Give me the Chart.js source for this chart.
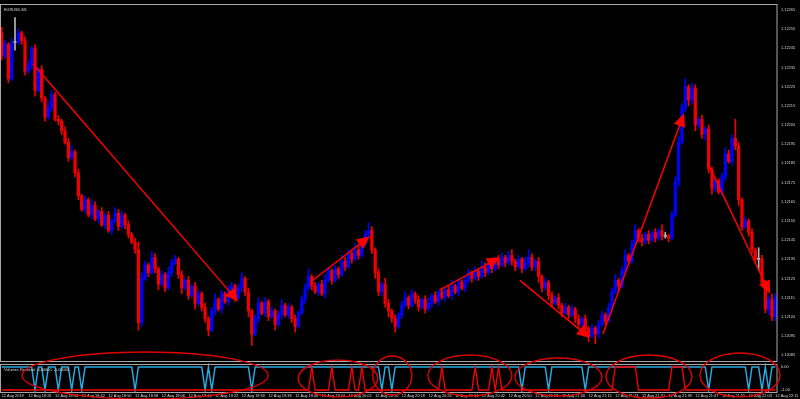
<!DOCTYPE html>
<html lang="en">
<head>
<meta charset="utf-8">
<title>EURUSD,M1</title>
<script src="https://cdn.jsdelivr.net/npm/chart.js@4.4.1/dist/chart.umd.min.js"></script>
<style>
    html, body { margin: 0; padding: 0; background: #000; }
    canvas { display: block; }
</style>
</head>
<body>
<canvas id="chart" width="800" height="399"></canvas>
<script>
// prices are kept in points (0.00001) above 1.12000
var base = 1.12;
var firstOpen = 253;
var closes = [
    241, 247, 229, 248, 248, 253, 249, 233, 236, 245,
    223, 234, 219, 209, 214, 221, 208, 207, 202, 196,
    188, 191, 180, 168, 161, 166, 158, 163, 156, 160,
    153, 158, 150, 155, 159, 152, 158, 153, 148, 144,
    140, 102, 125, 132, 128, 136, 130, 122, 127, 120,
    128, 133, 135, 127, 120, 124, 116, 121, 112, 117,
    110, 104, 98, 108, 114, 109, 117, 113, 118, 121,
    115, 120, 125, 118, 108, 96, 104, 112, 107, 113,
    105, 108, 101, 106, 111, 106, 110, 104, 100, 107,
    114, 120, 126, 121, 118, 122, 117, 124, 129, 124,
    130, 127, 134, 131, 138, 135, 140, 137, 143, 148,
    150, 140, 128, 118, 122, 112, 108, 104, 100, 106,
    111, 115, 111, 117, 114, 110, 114, 109, 112, 116,
    113, 118, 115, 119, 116, 121, 118, 123, 120, 124,
    128, 125, 129, 126, 131, 128, 133, 130, 135, 132,
    136, 133, 137, 134, 131, 135, 130, 133, 136, 131,
    134, 126, 120, 123, 116, 112, 115, 111, 107, 110,
    106, 109, 104, 101, 104, 99, 95, 99, 96, 101,
    106, 103, 110, 118, 124, 121, 129, 137, 134, 143,
    150, 146, 144, 148, 145, 149, 146, 150, 147, 147,
    146, 158, 175, 196, 214, 225, 218, 224, 205, 208,
    200, 203, 182, 172, 176, 170, 178, 190, 186, 198,
    194, 166, 152, 155, 149, 140, 135, 135, 123, 109,
    114, 105, 115
];
var wickUp = [
    3, 2, 1, 2, 13, 2, 1, 2, 3, 1, 2, 1, 2, 1, 3, 2, 1, 2, 1, 2,
    2, 3, 1, 2, 1, 2, 1, 3, 2, 1, 2, 1, 2, 1, 3, 2, 2, 1, 2, 1,
    2, 4, 3, 2, 1, 3, 2, 1, 2, 1, 3, 2, 2, 1, 2, 1, 2, 1, 2, 2,
    1, 2, 1, 2, 3, 1, 2, 1, 3, 2, 1, 2, 3, 1, 2, 1, 2, 3, 1, 2,
    1, 2, 1, 2, 3, 1, 2, 1, 2, 1, 2, 2, 4, 1, 2, 1, 2, 3, 2, 1,
    2, 1, 3, 2, 2, 1, 3, 2, 1, 2, 4, 2, 1, 2, 1, 3, 2, 1, 2, 1,
    2, 3, 1, 2, 1, 2, 1, 2, 3, 1, 2, 1, 2, 1, 2, 3, 1, 2, 1, 2,
    2, 1, 2, 1, 3, 2, 1, 2, 1, 2, 2, 1, 2, 3, 1, 2, 1, 3, 4, 2,
    1, 2, 1, 2, 1, 2, 1, 2, 1, 2, 1, 2, 1, 2, 1, 2, 1, 2, 1, 2,
    2, 1, 2, 2, 3, 1, 2, 3, 1, 2, 3, 1, 2, 1, 2, 1, 2, 1, 3, 2,
    1, 2, 3, 3, 2, 4, 1, 3, 2, 1, 2, 1, 2, 1, 2, 1, 2, 3, 2, 2,
    10, 2, 1, 2, 1, 2, 1, 6, 2, 1, 2, 3, 2
];
var wickDown = [
    2, 1, 2, 1, 4, 1, 2, 2, 1, 2, 3, 1, 2, 2, 1, 2, 1, 2, 2, 1,
    2, 1, 2, 2, 1, 2, 1, 2, 1, 2, 1, 2, 1, 2, 1, 2, 1, 2, 2, 1,
    2, 4, 2, 1, 2, 1, 2, 3, 1, 2, 1, 2, 1, 2, 3, 1, 2, 1, 3, 1,
    2, 2, 3, 1, 2, 1, 2, 1, 2, 1, 2, 1, 2, 2, 3, 6, 1, 2, 1, 2,
    2, 1, 3, 1, 2, 1, 2, 2, 3, 1, 1, 2, 1, 2, 1, 2, 1, 2, 1, 2,
    1, 2, 1, 2, 1, 2, 1, 2, 1, 1, 2, 2, 3, 2, 2, 2, 3, 2, 3, 1,
    2, 1, 2, 1, 2, 2, 1, 2, 1, 2, 1, 2, 1, 2, 1, 2, 1, 2, 1, 2,
    1, 2, 1, 2, 1, 2, 1, 2, 1, 2, 1, 2, 1, 2, 2, 1, 2, 1, 2, 2,
    2, 3, 2, 1, 2, 2, 1, 2, 2, 1, 2, 1, 2, 2, 1, 2, 3, 1, 5, 2,
    1, 2, 1, 2, 1, 2, 1, 2, 2, 1, 1, 2, 2, 1, 2, 1, 2, 1, 2, 1,
    2, 1, 1, 2, 1, 2, 3, 2, 3, 2, 2, 3, 2, 3, 2, 1, 2, 2, 1, 2,
    2, 3, 2, 1, 2, 2, 2, 6, 2, 2, 3, 2, 2
];
var priceTicks = [
    1.12085, 1.12095, 1.12105, 1.12115, 1.12125, 1.12135, 1.12145,
    1.12155, 1.12165, 1.12175, 1.12185, 1.12195, 1.12205, 1.12215,
    1.12225, 1.12235, 1.12245, 1.12255, 1.12265
];
var tickLabels = [
    "12 Aug 2019", "12 Aug 18:26", "12 Aug 18:34", "12 Aug 18:42", "12 Aug 18:50",
    "12 Aug 18:58", "12 Aug 19:06", "12 Aug 19:14", "12 Aug 19:22", "12 Aug 19:30",
    "12 Aug 19:38", "12 Aug 19:46", "12 Aug 19:54", "12 Aug 20:02", "12 Aug 20:10",
    "12 Aug 20:18", "12 Aug 20:26", "12 Aug 20:34", "12 Aug 20:42", "12 Aug 20:50",
    "12 Aug 20:58", "12 Aug 21:06", "12 Aug 21:15", "12 Aug 21:23", "12 Aug 21:31",
    "12 Aug 21:39", "12 Aug 21:47", "12 Aug 21:55", "12 Aug 22:03", "12 Aug 22:11"
];
// Volumes Reversal indicator: blue sits at 0 and dips to -1, red sits at -1 and jumps to 0
var blueDips = [10, 13, 17, 21, 24, 40, 61, 63, 75, 114, 117, 156, 164, 175, 212, 224, 228, 230];
var redOn = [93, 99, 105, 108, 132, 142, 147, 149, 184, 185, 186, 187, 188, 189, 190, 201, 202, 203, 204];
var indTicks = [0, -1];

// hand drawn marks: arrows [barFrom, ptsFrom, barTo, ptsTo], circles [barFrom, barTo, top, bottom] on indicator scale
var arrows = [
    [9.4, 237, 70.9, 113],
    [92.5, 123, 110.4, 147],
    [131.4, 119, 149.4, 136],
    [155.4, 124, 176.4, 94],
    [180.3, 96, 204.6, 211],
    [211.8, 185, 230.4, 117]
];
var circles = [
    [6.1, 79.9, 0.65, -1.39],
    [88.9, 112.8, 0.30, -1.30],
    [111.3, 123, 0.48, -1.22],
    [127.8, 153, 0.52, -1.26],
    [153.9, 180, 0.39, -1.26],
    [181.2, 207, 0.52, -1.35],
    [209.4, 233.4, 0.61, -1.30]
];

function toPrice(p) {
    return +(base + p / 100000).toFixed(5);
}

var bars = [], bodies = [], wicks = [], colors = [];
for (var i = 0; i < closes.length; i++) {
    var o = i === 0 ? firstOpen : closes[i - 1];
    var c = closes[i];
    bars.push(i);
    bodies.push([toPrice(o), toPrice(c)]);
    wicks.push([toPrice(Math.min(o, c) - wickDown[i]), toPrice(Math.max(o, c) + wickUp[i])]);
    colors.push(c > o ? "#0000ff" : (c < o ? "#f00000" : "#b4b4b4"));
}
var blueLine = bars.map(function (b) { return blueDips.indexOf(b) >= 0 ? -1 : 0; });
var redLine = bars.map(function (b) { return redOn.indexOf(b) >= 0 ? 0 : -1; });

var txt = "#d8d8d8";
var small = { family: "Liberation Sans", size: 3.9, lineHeight: 1 };

var mt4 = {
    id: "mt4",
    beforeDraw: function (chart) {
        var ctx = chart.ctx;
        ctx.save();
        ctx.fillStyle = "#000";
        ctx.fillRect(0, 0, chart.width, chart.height);
        ctx.restore();
    },
    afterDatasetsDraw: function (chart) {
        var ctx = chart.ctx, a = chart.chartArea;
        var xs = chart.scales.x, ys = chart.scales.y, is = chart.scales.y2;
        ctx.save();
        // window frames
        ctx.strokeStyle = "#a8a8a8";
        ctx.lineWidth = 1;
        ctx.strokeRect(0.5, ys.top + 0.5, a.right - 0.5, ys.bottom - ys.top - 2);
        ctx.strokeRect(0.5, is.top + 1.5, a.right - 0.5, is.bottom - is.top - 2);

        ctx.fillStyle = txt;
        ctx.font = "3.9px 'Liberation Sans'";
        ctx.textBaseline = "middle";
        ctx.fillText("EURUSD,M1", 4, ys.top + 6);
        ctx.fillText("Volumes Reversal  0.00000  -1.00000", 4, is.top + 7);

        // arrows
        ctx.strokeStyle = "#ff0000";
        ctx.fillStyle = "#ff0000";
        ctx.lineWidth = 1.5;
        arrows.forEach(function (r) {
            var x0 = xs.getPixelForValue(r[0]), y0 = ys.getPixelForValue(toPrice(r[1]));
            var x1 = xs.getPixelForValue(r[2]), y1 = ys.getPixelForValue(toPrice(r[3]));
            var dx = x1 - x0, dy = y1 - y0, len = Math.sqrt(dx * dx + dy * dy);
            var ux = dx / len, uy = dy / len;
            ctx.beginPath();
            ctx.moveTo(x0, y0);
            ctx.lineTo(x1 - ux * 8, y1 - uy * 8);
            ctx.stroke();
            ctx.beginPath();
            ctx.moveTo(x1, y1);
            ctx.lineTo(x1 - ux * 13 - uy * 6, y1 - uy * 13 + ux * 6);
            ctx.lineTo(x1 - ux * 13 + uy * 6, y1 - uy * 13 - ux * 6);
            ctx.closePath();
            ctx.fill();
        });

        // circles round the indicator
        ctx.strokeStyle = "#e00000";
        ctx.lineWidth = 1.4;
        circles.forEach(function (r) {
            var l = xs.getPixelForValue(r[0]), rt = xs.getPixelForValue(r[1]);
            var t = is.getPixelForValue(r[2]), b = is.getPixelForValue(r[3]);
            ctx.beginPath();
            ctx.ellipse((l + rt) / 2, (t + b) / 2, (rt - l) / 2, (b - t) / 2, 0, 0, Math.PI * 2);
            ctx.stroke();
        });
        ctx.restore();
    }
};

new Chart(document.getElementById("chart"), {
    data: {
        labels: bars,
        datasets: [{
            type: "bar",
            data: bodies,
            backgroundColor: colors,
            barThickness: 2.6,
            minBarLength: 1,
            grouped: false,
            yAxisID: "y",
            order: 1
        }, {
            type: "bar",
            data: wicks,
            backgroundColor: colors,
            barThickness: 1,
            grouped: false,
            yAxisID: "y",
            order: 2
        }, {
            type: "line",
            data: redLine,
            borderColor: "#ff0000",
            borderWidth: 1.3,
            pointRadius: 0,
            yAxisID: "y2",
            order: 0
        }, {
            type: "line",
            data: blueLine,
            borderColor: "#27a9e1",
            borderWidth: 1.5,
            pointRadius: 0,
            yAxisID: "y2",
            order: 0
        }]
    },
    options: {
        responsive: false,
        animation: false,
        devicePixelRatio: 1,
        layout: { padding: { top: 4, left: 0, right: 0, bottom: 0 } },
        plugins: { legend: { display: false }, tooltip: { enabled: false } },
        scales: {
            x: {
                type: "category",
                grid: { display: false, drawTicks: false },
                border: { display: false },
                ticks: {
                    autoSkip: false, maxRotation: 0, align: "start", padding: 1,
                    color: txt, font: small,
                    callback: function (v) { return tickLabels[v / 8]; }
                },
                afterBuildTicks: function (s) {
                    s.ticks = s.ticks.filter(function (t) { return t.value % 8 === 0; });
                },
                afterFit: function (s) { s.height = 6; s.paddingLeft = 0; s.paddingRight = 0; }
            },
            y: {
                position: "right",
                stack: "win",
                stackWeight: 359,
                weight: 0,
                min: 1.122681 - 0.001872,
                max: 1.122681,
                grid: { display: false, drawTicks: false },
                border: { display: false },
                ticks: {
                    padding: 4, color: txt, font: small,
                    callback: function (v) { return v.toFixed(5); }
                },
                afterBuildTicks: function (s) {
                    s.ticks = priceTicks.map(function (v) { return { value: v }; });
                },
                afterFit: function (s) { s.width = 23; s.paddingTop = 0; s.paddingBottom = 0; }
            },
            y2: {
                position: "right",
                stack: "win",
                stackWeight: 30,
                weight: 1,
                min: -1.13,
                max: 0.174,
                grid: { display: false, drawTicks: false },
                border: { display: false },
                ticks: {
                    padding: 4, color: txt, font: small,
                    callback: function (v) { return v.toFixed(2); }
                },
                afterBuildTicks: function (s) {
                    s.ticks = indTicks.map(function (v) { return { value: v }; });
                },
                afterFit: function (s) { s.width = 23; s.paddingTop = 0; s.paddingBottom = 0; }
            }
        }
    },
    plugins: [mt4]
});
</script>
</body>
</html>
